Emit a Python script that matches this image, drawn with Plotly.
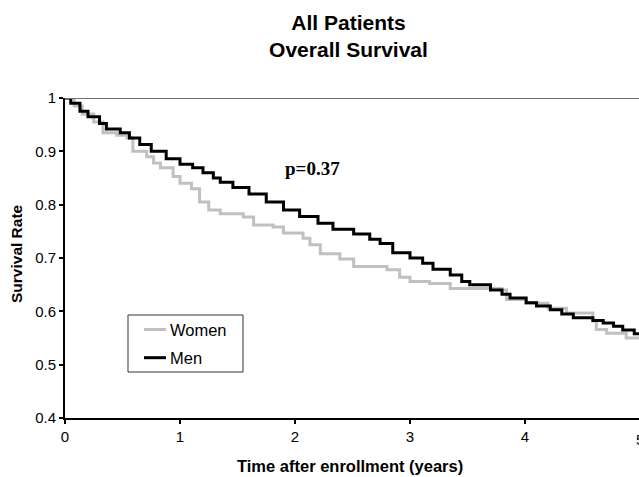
import plotly.graph_objects as go

# ---- data ----
women_t = [0, 0.08, 0.15, 0.25, 0.33, 0.45, 0.54, 0.59, 0.71, 0.77, 0.83, 0.94, 1.0, 1.1, 1.17,
           1.25, 1.35, 1.55, 1.64, 1.81, 1.9, 2.07, 2.13, 2.22, 2.39, 2.51, 2.8, 2.91, 3.0, 3.17,
           3.35, 3.8, 3.84, 4.01, 4.2, 4.36, 4.59, 4.62, 4.71, 4.88, 5.0]
women_s = [1.0, 0.985, 0.97, 0.955, 0.935, 0.93, 0.925, 0.9, 0.89, 0.878, 0.869, 0.853, 0.84, 0.83, 0.805,
           0.79, 0.783, 0.777, 0.762, 0.758, 0.747, 0.737, 0.725, 0.708, 0.698, 0.684, 0.678, 0.664, 0.656, 0.652,
           0.643, 0.64, 0.622, 0.615, 0.606, 0.597, 0.582, 0.566, 0.559, 0.55, 0.55]

men_t = [0, 0.05, 0.13, 0.2, 0.3, 0.36, 0.48, 0.56, 0.65, 0.75, 0.88, 1.0, 1.11, 1.2, 1.29, 1.35,
         1.46, 1.6, 1.75, 1.9, 2.04, 2.2, 2.33, 2.51, 2.65, 2.74, 2.85, 3.0, 3.11, 3.2, 3.35, 3.45,
         3.52, 3.7, 3.8, 3.87, 4.01, 4.1, 4.22, 4.32, 4.42, 4.59, 4.68, 4.77, 4.85, 4.95, 5.0]
men_s = [1.0, 0.99, 0.975, 0.965, 0.952, 0.942, 0.935, 0.925, 0.913, 0.9, 0.886, 0.876, 0.869, 0.86, 0.85, 0.842,
         0.832, 0.82, 0.805, 0.79, 0.778, 0.765, 0.754, 0.745, 0.735, 0.727, 0.71, 0.7, 0.69, 0.679, 0.668, 0.656,
         0.65, 0.64, 0.632, 0.625, 0.616, 0.61, 0.603, 0.595, 0.588, 0.583, 0.578, 0.572, 0.565, 0.558, 0.555]

y_ticks = [0.4, 0.5, 0.6, 0.7, 0.8, 0.9, 1.0]
y_tick_labels = ["0.4", "0.5", "0.6", "0.7", "0.8", "0.9", "1"]
x_ticks = [0, 1, 2, 3, 4]
x_tick_labels = ["0", "1", "2", "3", "4"]

W, H = 639, 477
L, R, T, B = 65, 0, 98, 59
PW, PH = W - L - R, H - T - B
PX_PER_YEAR = 115.0

def px_x(p):
    return (p - L) / PW

def px_y(p):
    return (H - B - p) / PH

WOMEN_COLOR = "#c0c0c0"
MEN_COLOR = "#000000"
SANS = "Liberation Sans, Arial, sans-serif"

fig = go.Figure()
fig.add_trace(go.Scatter(x=women_t, y=women_s, mode="lines", name="Women",
                         line=dict(color=WOMEN_COLOR, width=3, shape="hv"), showlegend=False))
fig.add_trace(go.Scatter(x=men_t, y=men_s, mode="lines", name="Men",
                         line=dict(color=MEN_COLOR, width=3, shape="hv"), showlegend=False))

fig.update_layout(
    width=W, height=H,
    margin=dict(l=L, r=R, t=T, b=B),
    paper_bgcolor="white", plot_bgcolor="white",
    font=dict(family=SANS, color="black"),
    title=dict(text="<b>All Patients<br>Overall Survival</b>",
               font=dict(family=SANS, size=21, color="black"),
               xref="paper", x=px_x(348.5), xanchor="center",
               yref="container", y=1 - 30 / H, yanchor="middle"),
    xaxis=dict(range=[0, PW / PX_PER_YEAR], tickvals=x_ticks, ticktext=x_tick_labels,
               showgrid=False, zeroline=False, showline=True, linecolor="black", linewidth=2,
               ticks="outside", ticklen=4, tickwidth=2, tickcolor="black",
               tickfont=dict(family=SANS, size=15, color="black")),
    yaxis=dict(range=[0.4, 1.0], tickvals=y_ticks, ticktext=y_tick_labels,
               showgrid=False, zeroline=False, showline=True, linecolor="black", linewidth=2,
               ticks="outside", ticklen=4, tickwidth=2, tickcolor="black",
               tickfont=dict(family=SANS, size=15, color="black")),
)

# top frame line (grey)
fig.add_shape(type="line", xref="paper", yref="y", x0=0, x1=1, y0=1.0, y1=1.0,
              line=dict(color="#707070", width=2))

# partially visible "5" tick label at the right edge
fig.add_annotation(text="5", xref="paper", yref="paper", x=px_x(640), y=px_y(439),
                   xanchor="center", yanchor="middle", showarrow=False,
                   font=dict(family=SANS, size=15, color="black"))

# axis titles
fig.add_annotation(text="<b>Time after enrollment (years)</b>", xref="paper", yref="paper",
                   x=px_x(350), y=px_y(466), xanchor="center", yanchor="middle", showarrow=False,
                   font=dict(family=SANS, size=16.5, color="black"))
fig.add_annotation(text="<b>Survival Rate</b>", xref="paper", yref="paper",
                   x=px_x(16), y=px_y(253), xanchor="center", yanchor="middle", showarrow=False,
                   textangle=-90, font=dict(family=SANS, size=15.5, color="black"))

# p-value
fig.add_annotation(text="<b>p=0.37</b>", xref="paper", yref="paper",
                   x=px_x(312), y=px_y(168), xanchor="center", yanchor="middle", showarrow=False,
                   font=dict(family="Liberation Serif, Times New Roman, serif", size=19, color="black"))

# legend box (manual)
fig.add_shape(type="rect", xref="paper", yref="paper",
              x0=px_x(128), x1=px_x(243), y0=px_y(372), y1=px_y(315),
              line=dict(color="#333333", width=1), fillcolor="white", layer="above")
for name, color, ypx in [("Women", WOMEN_COLOR, 329.5), ("Men", MEN_COLOR, 357.7)]:
    fig.add_shape(type="line", xref="paper", yref="paper",
                  x0=px_x(144), x1=px_x(166), y0=px_y(ypx), y1=px_y(ypx),
                  line=dict(color=color, width=3), layer="above")
    fig.add_annotation(text=name, xref="paper", yref="paper", x=px_x(168), y=px_y(ypx),
                       xanchor="left", yanchor="middle", showarrow=False,
                       font=dict(family=SANS, size=16.5, color="black"))

fig.write_html("out.html", config={"displayModeBar": False},
               post_script="document.body.style.margin='0px';document.body.style.overflow='hidden';")
